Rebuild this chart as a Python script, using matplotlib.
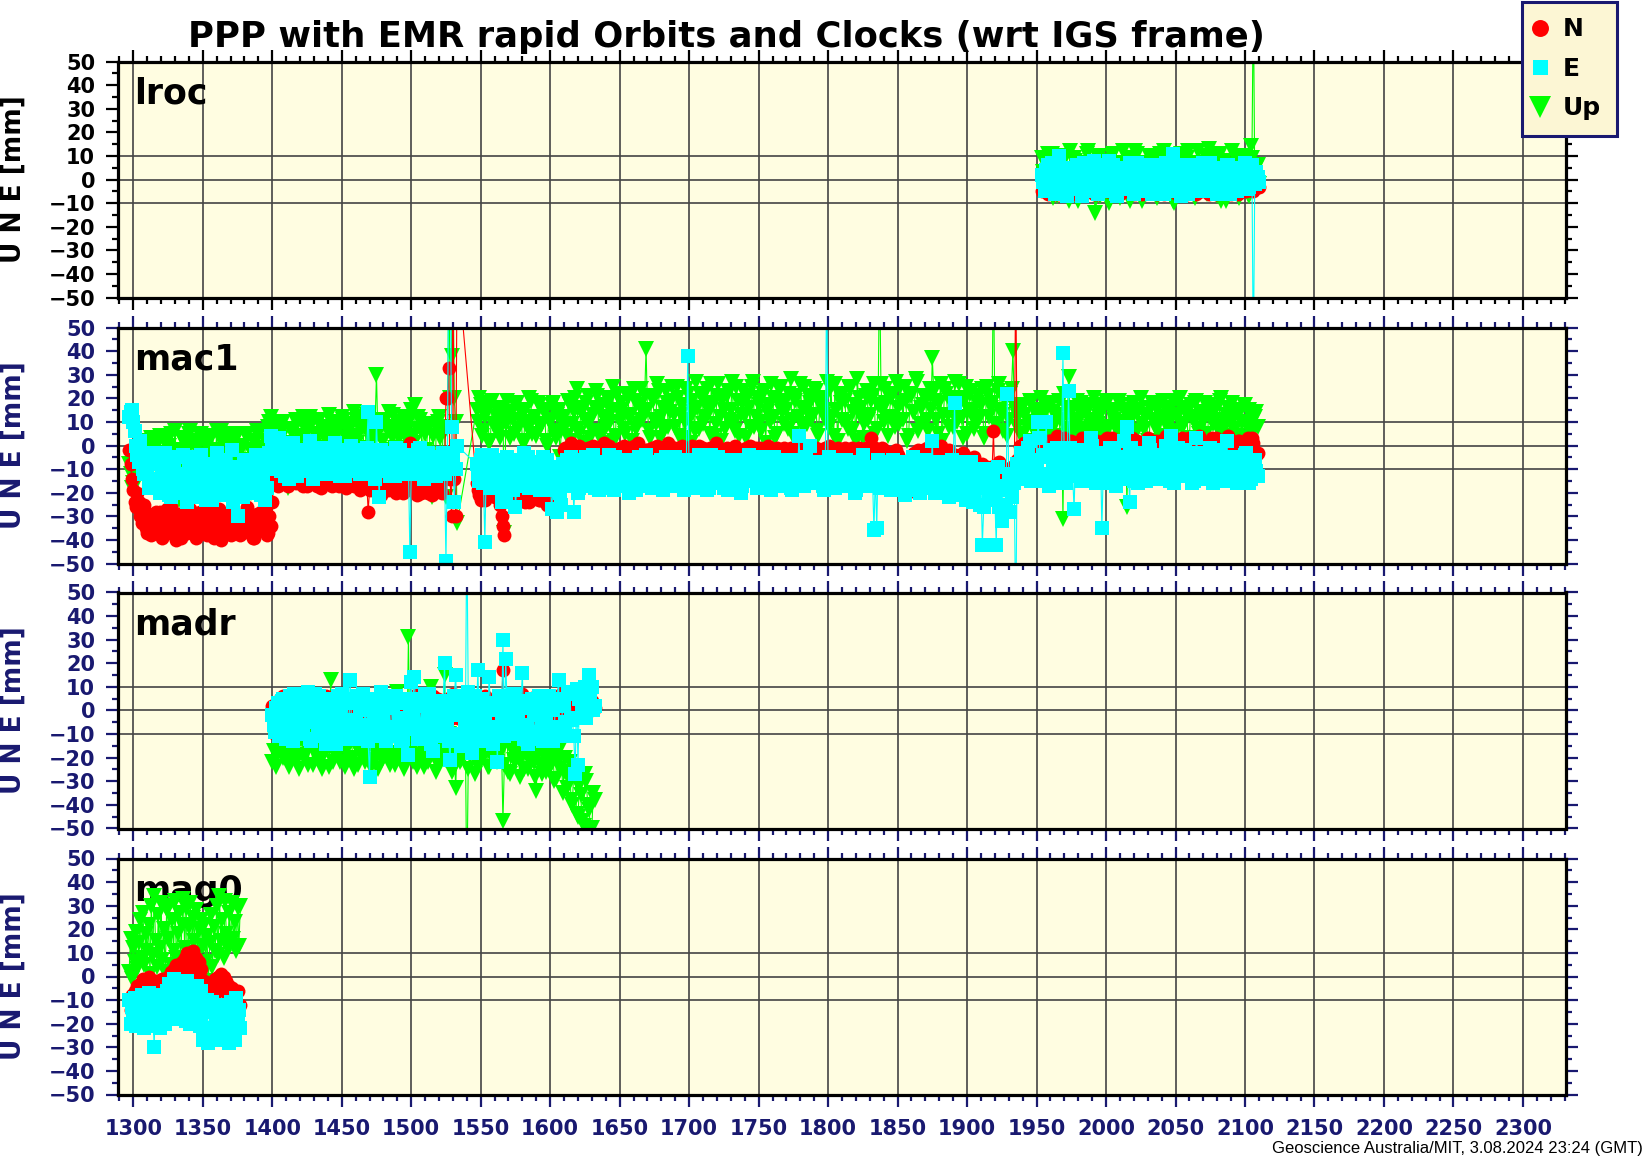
import matplotlib
matplotlib.use("Agg")
import matplotlib.pyplot as plt
import numpy as np
from matplotlib.lines import Line2D
from matplotlib.ticker import MultipleLocator

# ---- data (GPS week, residuals in mm); "_b" = the in-between weeks ----
stations = ['lroc', 'mac1', 'madr', 'mag0']

lroc_weeks = np.arange(1954, 2112, 2)
lroc_n = [-5,-2,-6,-1,-4,-3,-6,0,-2,-5, -4,-1,-3,-6,-2,0,-5,-3,-1,-4,
          -6,-2,-3,0,-5,-1,-4,-2,-6,-3, 0,-4,-1,-5,-2,-3,-6,-1,-4,0,
          -2,-5,-3,-1,-6,-2,-4,0,-3,-5, -1,-2,-6,-4,0,-3,-1,-5,-2,-4,
          -6,-1,-3,0,-5,-2,-4,-1,-6,-3, -2,0,-4,-1,-3,-2,-5,0,-3]
lroc_e = [2,-5,6,-3,1,-6,10,-2,4,-7, 0,5,-4,3,-1,7,-5,2,-3,6,
          -6,1,4,-2,8,-4,0,-7,3,-1, 5,-3,2,-6,7,-2,0,4,-5,1,
          -3,6,-1,3,-6,2,-4,11,-2,5, -7,0,4,-3,6,-1,2,-5,7,-4,
          1,-2,5,-6,3,0,-3,6,-1,4, -5,2,-2,7,-4,1,-80,3,-1]
lroc_u = [9,-4,11,2,-8,7,-1,10,-6,4, 12,-3,8,-9,5,0,11,-5,3,-14,
          9,-7,6,1,-10,10,-2,7,-8,12, 3,-4,9,-6,11,0,-9,6,2,-3,
          10,-7,8,-1,12,-5,4,-9,7,1, 11,-6,9,-2,5,-8,12,3,-4,10,
          13,-3,8,-7,11,0,-9,6,2,-5, 10,-8,4,9,-6,14,80,5,-2]
lroc_weeks_b = np.arange(1955, 2111, 2)
lroc_n_b = [-3,-5,-1,-4,-6,-2,-3,-5,0,-4, -2,-6,-1,-3,-5,-2,-4,0,-6,-3,
            -1,-4,-2,-5,-3,0,-6,-2,-4,-1, -5,-3,-2,-6,0,-4,-1,-5,-3,-2,
            -4,-6,-1,-3,-5,0,-2,-4,-6,-1, -3,-5,-2,0,-4,-6,-1,-3,-5,-2,
            0,-4,-6,-2,-3,-1,-5,-4,0,-2, -6,-3,-1,-5,-2,-4,-1,-3]
lroc_e_b = [-1,4,-3,7,-6,2,-2,5,-5,1, 3,-4,6,-1,-7,4,0,-3,8,-2,
            2,-5,5,-1,-3,6,-6,1,4,-2, -4,7,0,-5,3,-1,6,-3,2,-6,
            5,-2,1,-4,7,0,-5,3,-1,4, -3,6,-6,2,-2,5,0,-4,3,-1,
            7,-5,1,-3,4,-2,6,-6,2,0, -4,5,-1,3,-3,6,-2,1]
lroc_u_b = [3,8,-5,11,0,-7,6,-2,10,-9, 4,9,-4,7,1,-6,12,-3,5,-8,
            10,2,-5,8,-1,11,-7,4,6,-3, 9,-9,2,12,-4,7,0,-6,10,-2,
            5,-8,11,3,-5,8,-1,-10,6,2, 9,-4,12,0,-7,7,4,-3,10,-6,
            1,11,-2,6,-9,8,3,-5,12,-1, 7,-4,10,2,-7,9,0,6]

mac1_weeks = np.r_[np.arange(1297, 1535, 2), np.arange(1547, 2111, 2)]
mac1_n = [-2,-14,-24,-20,-30,-27,-35,-29,-38,-31,
          -33,-28,-39,-30,-36,-26,-34,-40,-29,-35, -31,-37,-27,-33,-39,-30,-35,-28,-38,-32,
          -26,-36,-31,-40,-29,-34,-37,-27,-33,-30, -38,-32,-28,-36,-31,-39,-29,-35,-33,-27,
          -37,-34,
          -12,-16,-11,-15,-13,-17,-12,-14,-16,-11, -15,-13,-17,-12,-14,-16,-13,-18,-12,-15,
          -14,-17,-13,-16,-12,-15,-18,-14,-13,-17, -15,-19,-14,-16,-28,-17,-13,-18,-20,-15,
          -16,-19,-14,-17,-20,-15,-18,-13,-16,1, -14,-18,-15,-20,-17,-19,-16,-21,-18,-15,
          -17,-14,20,
          33,-30,-14,80,
          -16,-21,-18,-23,-15,-20,-17,-22,-19,-30, -38,-18,-21,-16,-23,-19,-17,-22,-20,-24,
          -18,-21,-16,-23,-19,-22,-17,-24,-20,-21, -18,-12,
          -1,-4,1,-3,-5,0,-2,-6,-1,-3, 0,-4,-2,-5,1,-3,-1,-6,-2,-4,
          -3,0,-5,-1,-4,-2,1,-3,-6,-2, -4,-1,-3,0,-5,-2,-4,1,-3,-1,
          -5,-2,0,-4,-1,-3,-6,-2,0,-4, -2,-5,-1,-3,1,-4,-2,-6,-1,-3,
          -4,0,-2,-5,-3,-1,-4,-2,-6,-3, -1,-4,-2,0,-5,-3,-1,-4,-2,-5,
          -3,-1,-4,-2,-6,-3,0,-4,-2,-5, -1,-3,-5,-2,-4,0,-3,-6,-1,-4,
          -2,-5,-3,-1,-4,-2,-6,-3,-1,-4, 3,-2,-5,-3,-1,-4,-7,-3,-5,-2,
          -6,-9,-14,-20,-8,-4,-6,-2,-5,-3, -1,-4,1,-3,-6,0,-5,-8,-2,-7,
          -4,-9,-6,-3,-11,-7,-13,-5,-10,-14, -8,-12,-15,-9,6,-13,-7,-11,-15,-10,
          -12,-16,80,
          -14,-2,1,-3,2,-1,-4,0,3,-2, -1,2,-3,0,4,-2,1,-4,-1,2,
          -3,0,-2,3,-1,-4,1,-2,2,-3, 0,-1,3,-3,1,-2,-4,2,-1,0,
          -2,3,-3,1,-1,-4,2,0,-2,1, -3,2,-1,4,-2,0,-4,1,-1,3,
          -2,0,-3,2,-1,4,-2,-4,1,0, -3,3,-1,-2,2,-4,0,1,-3,2,
          -1,-4,1,-2,3,-5,-3]
mac1_e = [12,15,6,-4,2,-10,-6,-18,-3,-14,
          -8,-20,-12,-3,-17,-22,-10,-15,-5,-19, -13,-24,-7,-16,-11,-21,-4,-14,-18,-9,
          -23,-12,-6,-17,-20,-10,-15,-2,-19,-30, -13,-22,-8,-16,-11,-20,-5,-18,-14,-23,
          -9,4,
          -2,-10,3,-7,-13,-4,-9,1,-12,-6, -3,-11,-8,2,-14,-5,-9,-1,-12,-7,
          -4,-10,1,-8,-13,-3,-6,-11,0,-9, -5,-12,-2,-8,14,-6,-11,10,-22,-4,
          -9,-3,-13,-7,-1,-10,-5,-12,-8,-45, -6,-11,-2,-9,-14,-4,-8,-12,-5,-10,
          -7,-3,-49,
          80,8,-24,0,
          -8,-15,-4,-41,-12,-18,-6,-14,-10,-24, -17,-5,-13,-19,-26,-9,-15,-3,-12,-18,
          -7,-14,-11,-19,-5,-16,-10,-27,-13,-28, -20,-8,
          -8,-15,-5,-28,-12,-18,-6,-14,-10,-17, -4,-13,-19,-9,-15,-7,-12,-18,-5,-11,
          -16,-8,-13,-20,-6,-11,-15,-9,-17,-4, -12,-18,-7,-14,-10,-19,-5,-13,-16,-8,
          -11,-17,-6,-14,38,-9,-18,-12,-4,-15, -10,-19,-7,-13,-16,-5,-12,-18,-9,-14,
          -6,-17,-11,-20,-8,-13,-4,-15,-10,-18, -7,-12,-16,-9,-19,-5,-14,-11,-17,-8,
          -13,-18,-6,-15,4,-10,-17,-7,0,-12, -16,-9,-14,-19,80,-5,-13,-18,-8,-15,
          -11,-6,-17,-12,-20,-9,-14,-4,-16,-10, -13,-36,-35,-18,-7,-15,-11,-19,-6,-14,
          -17,-9,-21,-12,-16,-5,-19,-13,-8,-18, -11,-15,2,-20,-7,-14,-18,-10,-22,-6,
          18,-13,-19,-9,-23,-15,-7,-21,-12,-25, -42,-17,-10,-22,-14,-42,-26,-32,-19,22,
          -28,-15,-80,
          -10,-3,-14,-6,2,-12,-8,10,-15,-4, 10,-17,-5,-13,-1,-9,39,-16,23,-7,
          -27,-11,-2,-15,-6,-12,3,-9,-16,-4, -35,-10,-14,-1,-8,-17,-5,-11,2,8,
          -24,-13,-6,-16,-3,-10,-15,1,-8,-12, -4,-14,-7,0,-11,4,-16,-5,-9,-13,
          -2,-12,-7,-15,3,-9,-14,-6,-11,-1, -16,-8,-4,-13,-10,2,-15,-7,-12,-5,
          -14,-9,-3,-16,-11,-6,-13]
mac1_u = [-8,-18,-12,-15,-5,-10,2,-6,3,-8,
          -3,4,-7,1,-9,5,-2,-5,-23,3, -6,0,6,-8,2,-4,5,-10,1,-3,
          4,-7,-21,6,-5,2,-22,3,-2,5, -6,0,4,-8,-20,-4,6,-3,-7,2,
          8,12,
          2,9,-3,6,0,-18,7,-2,11,4, -4,8,1,12,-1,5,10,-3,7,2,
          13,-2,6,9,0,11,3,-4,8,14, 1,7,12,-1,5,10,4,30,9,2,
          11,6,-2,13,8,3,10,-1,7,12, 4,17,12,6,9,-2,8,-22,-20,10,
          3,8,-22,
          80,38,20,-33,
          15,20,4,12,18,2,9,16,6,13, -37,19,3,11,17,7,14,1,10,20,
          5,12,18,8,15,2,11,17,6,13, -5,9,
          8,19,2,14,24,5,16,11,21,3, 13,23,6,17,1,20,10,25,4,15,
          18,7,22,12,2,19,9,24,14,41, 6,21,11,26,3,16,23,8,19,13,
          25,4,17,10,22,1,14,27,7,20, 12,24,5,18,9,26,2,15,21,11,
          27,6,19,13,23,3,16,25,8,20, 10,22,1,17,26,12,5,24,14,19,
          7,28,11,21,3,16,25,9,18,13, 23,4,20,15,27,8,12,26,2,18,
          22,10,25,6,17,28,13,3,21,11, 19,26,7,80,15,24,4,20,12,27,
          9,18,25,2,22,14,28,6,16,21, 11,24,37,19,5,26,13,22,8,17,
          27,10,20,3,25,15,23,7,18,12, 24,5,21,16,80,9,26,13,19,4,
          22,40,14,
          12,4,17,8,19,2,14,10,20,6, 15,3,18,9,13,1,-31,16,29,7,
          11,19,5,14,2,17,8,20,4,12, 16,6,18,1,13,9,19,3,15,-26,
          10,17,5,14,20,7,12,2,18,9, 15,4,19,11,6,16,1,13,20,8,
          14,3,17,10,19,5,12,18,2,15, 9,16,6,20,11,4,14,18,7,13,
          3,17,10,15,5,12,8]
mac1_weeks_b = np.r_[np.arange(1298, 1534, 2), np.arange(1548, 2110, 2)]
mac1_n_b = [-8,-19,-26,-24,-33,-25,-37,-32,-34,-28,
            -36,-31,-38,-27,-33,-37,-30,-35,-39,-32, -29,-34,-36,-31,-38,-28,-33,-37,-30,-35,
            -39,-32,-27,-34,-36,-31,-38,-29,-35,-33, -37,-30,-26,-34,-39,-31,-36,-28,-33,-38,
            -30,
            -24,-14,-17,-13,-15,-11,-16,-13,-15,-12, -14,-17,-12,-16,-13,-15,-17,-14,-16,-13,
            -12,-15,-16,-14,-17,-13,-15,-12,-16,-15, -14,-16,-18,-13,-15,-19,-16,-14,-17,-21,
            -18,-15,-17,-19,-14,-16,-18,-20,-15,-17, -19,-16,-21,-14,-18,-16,-20,-15,-19,-17,
            -16,-20,-13,
            20,-14,80,-30,
            -19,-23,-17,-21,-20,-16,-22,-18,-25,-34, -20,-23,-17,-21,-19,-22,-18,-24,-20,-17,
            -22,-19,-23,-18,-21,-25,-19,-22,-20,-17, -8,
            -2,-5,-1,-3,0,-4,-2,-5,-3,-1, -4,-2,-6,-1,-3,-5,0,-2,-4,-3,
            -1,-5,-2,-4,-3,0,-5,-1,-3,-4, -2,-6,-1,-4,-3,-1,-5,-2,0,-4,
            -3,-1,-4,-2,-5,-3,0,-4,-2,-5, -1,-3,-4,-2,-5,-1,-3,-4,-2,-5,
            -2,-4,-1,-3,-6,-2,-4,0,-3,-1, -4,-2,-5,-3,-1,-4,-2,-6,-3,-1,
            -2,-5,-3,-1,-4,-2,-5,-3,-1,-4, -3,-5,-2,-4,-1,-3,-5,-2,-4,-3,
            -4,-1,-3,-5,-2,-4,-1,-5,-3,-2, -3,-5,-1,-4,-6,-2,-5,-3,-4,-6,
            -4,-7,-11,-17,-12,-6,-3,-5,-4,-2, -3,-2,-5,-1,-4,-2,-7,-4,-6,-3,
            -8,-5,-10,-7,-4,-12,-6,-9,-13,-8, -11,-14,-9,-13,-10,-16,-12,-8,-14,-11,
            -13,-9,-15,
            -6,0,-2,1,-3,2,-1,-3,1,-2, 0,-3,2,-1,-4,1,-2,3,0,-3,
            1,-2,-1,2,-3,0,-4,3,-2,1, -1,2,-3,0,3,-2,1,-4,0,2,
            -3,1,-2,2,-1,-4,0,3,-2,-1, 2,-3,1,-1,3,-2,0,-4,2,-1,
            1,-3,3,-1,-2,2,-4,0,1,-2, 3,-1,-3,1,0,-2,4,-3,1,-1,
            2,-3,0,3,-2,1,-4]
mac1_e_b = [14,10,0,-7,-4,-12,-9,-14,-8,-17,
            -14,-6,-18,-10,-21,-7,-15,-12,-20,-4, -16,-9,-22,-13,-5,-18,-11,-23,-8,-15,
            -19,-3,-13,-21,-7,-16,-11,-24,-9,-17, -14,-6,-20,-12,-19,-4,-15,-21,-10,-18,
            -3,
            1,-8,-4,-11,-1,-6,-14,-3,-8,-13, -7,-2,-10,-5,-9,-12,-4,-7,-1,-11,
            -8,-3,-12,-6,-9,-2,-13,-5,-7,-10, -3,-9,-6,-12,-1,-8,-4,-14,-7,-2,
            -11,-6,-9,-4,-13,-7,-2,-10,-5,-8, -12,-4,-9,-1,-7,-11,-3,-10,-6,-13,
            -5,-8,-12,
            -6,80,-6,-10,
            -12,-6,-16,-9,-14,-4,-18,-11,-7,-15, -21,-10,-13,-6,-17,-12,-8,-16,-5,-14,
            -10,-18,-8,-13,-16,-6,-12,-19,-9,-15, -25,
            -13,-6,-17,-10,-15,-20,-9,-12,-5,-16, -11,-18,-7,-14,-10,-16,-4,-13,-19,-8,
            -12,-15,-6,-17,-10,-14,-19,-5,-13,-9, -16,-7,-14,-11,-18,-6,-12,-15,-9,-17,
            -5,-13,-10,-19,-7,-15,-11,-6,-17,-9, -14,-12,-18,-4,-16,-10,-8,-15,-13,-19,
            -9,-14,-6,-12,-17,-10,-15,-7,-13,-11, -18,-5,-12,-15,-9,-17,-11,-14,-6,-16,
            -10,-13,-19,-8,-14,-11,-16,-5,-13,-9, -15,-12,-7,-17,-10,-14,-18,-9,-12,-6,
            -16,-13,-8,-15,-11,-19,-7,-14,-10,-17, -9,-15,-12,-6,-18,-11,-14,-8,-16,-10,
            -13,-19,-7,-15,-11,-17,-9,-14,-20,-12, -6,-16,-10,-18,-13,-8,-15,-11,-19,-14,
            -9,-17,-12,-21,-7,-16,-13,-24,-10,-18, -15,-26,-11,-20,-14,-23,-9,-19,-17,-25,
            -12,-22,-16,
            -8,-13,-4,-11,-1,-15,-6,-9,3,-12, -5,-14,-2,-10,-7,-16,-3,-11,-8,-1,
            -13,-6,-10,-15,-4,-9,-12,0,-7,-14, -3,-11,-8,-16,-5,-2,-12,-9,-6,-14,
            -10,-1,-15,-7,-11,-4,-13,-8,-2,-10, -14,-6,-9,-12,-3,-15,-7,-10,-1,-11,
            -8,-13,-5,-16,-9,-3,-12,-7,-14,-4, -10,-6,-15,-2,-11,-8,-13,-5,-9,-16,
            -7,-12,-4,-10,-14,-8,-11]
mac1_u_b = [-12,-16,-7,-11,-3,-8,0,-4,-1,-6,
            1,-5,3,-8,0,-4,6,-2,-9,2, -3,5,-6,1,-1,4,-7,0,3,-5,
            -2,6,-9,1,-4,5,-1,-6,3,-3, 0,-8,5,-2,2,-5,4,-1,-6,6,
            10,
            5,-1,7,3,10,-5,1,6,-3,9, 3,12,-2,6,9,0,4,11,-1,8,
            5,10,2,-3,7,12,-1,6,9,3, 11,4,8,-2,13,6,1,9,5,11,
            2,8,14,4,-1,10,6,12,3,9, 15,1,7,11,-3,5,9,-15,4,8,
            12,-10,6,
            -10,20,80,10,
            10,17,6,14,1,19,8,12,3,16, 9,13,14,5,18,11,2,15,7,19,
            12,4,17,9,14,0,10,18,3,15, 6,
            12,4,17,9,20,7,14,1,18,10, 6,16,21,3,12,8,19,14,2,22,
            10,15,5,20,13,24,7,17,11,21, 15,3,19,9,23,12,6,18,14,25,
            8,20,13,3,24,11,19,6,16,22, 9,17,14,26,4,21,12,19,7,23,
            15,10,25,4,18,13,21,8,27,12, 17,6,23,14,10,20,3,18,25,9,
            15,22,5,19,12,26,8,16,21,11, 24,6,17,13,20,10,25,4,15,22,
            11,19,7,24,14,2,20,16,9,23, 13,21,5,17,26,10,18,12,22,8,
            16,25,11,19,4,21,14,27,9,17, 20,6,15,23,11,18,2,24,13,20,
            8,16,26,12,19,5,22,14,10,21, 17,3,25,12,18,9,23,15,6,20,
            11,24,17,
            8,16,5,13,10,18,6,15,3,12, 9,17,7,14,4,19,11,22,6,13,
            16,3,10,18,7,14,11,5,17,9, 13,4,19,8,15,11,6,17,10,14,
            3,12,18,6,15,9,13,2,16,11, 7,17,12,4,14,10,19,6,13,16,
            9,15,3,12,18,7,14,10,5,17, 11,14,8,19,6,13,16,9,12,4,
            15,10,17,7,13,11,14]

madr_weeks = np.arange(1400, 1633, 2)
madr_n = [2,-10,4,-2,6,0,-4,3,-1,5, -3,1,7,-2,4,5,-5,2,6,-1,
          3,-4,0,5,-2,7,1,-3,4,-1, 6,-2,2,-5,3,0,5,-3,1,7,
          -1,4,-4,2,6,-2,0,3,-5,1, 5,-3,7,0,-1,4,-4,2,6,-2,
          3,-5,1,5,-1,7,0,-3,4,2, -4,6,-1,3,-2,5,0,-5,2,4,
          -1,6,-3,17,1,-4,5,0,3,-2, 7,-1,4,-5,2,6,0,-3,5,1,
          -2,4,-11,3,7,0,-4,5,2,6, -1,8,3,-2,9,4,1]
madr_e = [-2,-9,3,-6,5,-12,0,-4,7,-10, -1,-7,4,8,-13,2,-5,6,-11,-3,
          1,-8,5,-14,-2,7,-6,3,13,-10, -4,6,-12,0,4,-28,-7,2,-11,8,
          -5,-13,1,6,-9,3,-3,-12,5,-19, 12,14,-6,2,-10,7,-2,-14,-17,4,
          -8,1,20,-5,-21,-12,15,3,-15,-1, 80,-9,-18,6,17,-4,-13,2,14,-7,
          -11,-22,5,30,22,-3,-10,7,-6,1, 16,-8,-14,4,-2,-12,6,-5,2,-9,
          0,-13,5,13,-7,3,-11,8,-4,-27, -23,6,9,-3,15,10,2]
madr_u = [-22,-12,-18,-9,-20,-14,-24,-10,-16,-21, -11,-19,-13,-23,-8,-17,-20,-12,-25,-15,
          -9,13,-22,-14,-18,-10,-24,-16,-12,-20, -15,-23,-11,-19,-9,-21,-13,-17,-25,-12,
          -20,-14,-18,-10,-23,8,-16,-21,-11,31, -17,-13,-24,-9,-19,-15,-22,10,-12,-26,
          -14,-20,15,-11,-18,-25,-33,-13,-21,-16, -80,-19,-12,-27,-23,-15,-20,-10,-24,-17,
          -13,-22,-18,-47,-11,-26,-16,-21,-14,-28, -19,-12,-25,-17,-22,-34,-15,-27,-20,-13,
          -24,-18,-29,-21,-15,-26,-33,-22,-40,-28, -45,-36,-49,-30,-42,-50,-38]
madr_weeks_b = np.arange(1401, 1632, 2)
madr_n_b = [0,3,-2,5,1,-3,4,-1,6,2, -4,3,0,5,-2,1,4,-3,2,6,
            -1,3,-4,0,5,2,-2,4,1,-3, 6,0,-1,3,-4,2,5,-2,1,4,
            -3,0,6,-1,2,-4,3,5,0,-2, 4,1,-3,6,2,-1,3,-4,0,5,
            1,-2,4,2,-3,6,0,3,-1,5, -4,2,1,-2,4,0,6,-3,3,1,
            -1,5,2,-4,0,3,6,-2,1,4, -3,2,5,0,-1,3,-4,6,2,1,
            4,-2,0,5,3,-1,6,2,-3,4, 1,7,3,0,8,2]
madr_e_b = [-6,1,-11,4,-3,-8,6,-13,-1,3, -9,5,-4,-12,0,7,-7,-2,4,-14,
            -5,2,-10,6,-1,-8,3,-12,-4,5, -9,0,7,-6,-13,2,-3,5,-10,-1,
            4,-7,-11,1,6,-4,-13,3,-8,0, -2,5,-12,-6,2,-9,7,-3,-11,1,
            -5,4,-8,-13,0,6,-2,-10,3,-6, 8,-4,-12,1,-7,5,-1,-9,3,-14,
            0,6,-5,-11,2,-3,7,-8,-1,4, -12,-6,1,5,-9,-2,3,-13,-4,6,
            0,-7,4,-10,2,-5,7,-3,-11,9, 5,-1,10,3,7,0]
madr_u_b = [-17,-24,-10,-19,-13,-22,-8,-18,-14,-25, -12,-20,-16,-9,-23,-15,-11,-21,-18,-10,
            -24,-14,-19,-12,-22,-9,-17,-20,-13,-25, -11,-18,-15,-22,-10,-24,-14,-19,-8,-21,
            -16,-12,-23,-18,-9,-20,-14,-25,-13,-17, -22,-10,-19,-15,-24,-12,-20,-16,-9,-23,
            -18,-13,-21,-10,-26,-17,-14,-22,-19,-12, -25,-15,-20,-11,-23,-18,-13,-24,-16,-21,
            -10,-19,-15,-23,-12,-27,-17,-22,-14,-20, -25,-16,-21,-13,-28,-18,-23,-15,-26,-19,
            -22,-30,-17,-25,-35,-20,-28,-38,-24,-44, -32,-47,-27,-40,-50,-35]

mag0_weeks = np.arange(1297, 1378, 1)
mag0_n = [-10,-14,-8,-12,-6,-11,-4,-9,-3,-7, -1,-6,-2,-5,0,-7,-3,-8,-2,-6,
          -2,-7,-4,-8,-1,-6,-3,-5,0,-4, 2,-2,3,-3,5,0,4,-1,6,2,
          8,3,10,5,9,4,11,6,8,3, 6,0,3,-4,-2,-7,-5,-9,-4,-8,
          -3,-9,-1,-6,0,-5,1,-4,0,-6, -2,-8,-4,-9,-5,-10,-7,-11,-6,-12,
          -12]
mag0_e = [-10,-20,-13,-17,-9,-21,-14,-11,-19,-8, -16,-22,-10,-18,-7,-13,-21,-12,-30,-9,
          -19,-14,-22,-8,-17,-11,-20,-6,-15,-3, -12,-18,-1,-14,-6,-17,-3,-10,-16,-4,
          -13,-19,-2,-11,-20,-5,-15,-8,-18,-4, -14,-21,-6,-27,-12,-24,-10,-28,-15,-22,
          -11,-26,-13,-20,-27,-12,-24,-17,-26,-12, -21,-15,-28,-11,-25,-18,-27,-9,-20,-14,
          -22]
mag0_u = [2,16,-1,12,6,19,3,14,24,8, 27,5,18,11,22,1,30,9,34,15,
          4,26,12,31,7,20,2,28,16,30, 5,24,11,32,8,18,27,6,22,33,
          12,29,7,21,31,10,25,15,28,9, 20,3,24,13,22,6,17,-2,14,26,
          4,21,11,30,9,34,15,24,8,32, 18,12,27,14,31,16,23,11,29,13,
          30]

series = {
    'lroc': (lroc_weeks, lroc_n, lroc_e, lroc_u, lroc_weeks_b, lroc_n_b, lroc_e_b, lroc_u_b),
    'mac1': (mac1_weeks, mac1_n, mac1_e, mac1_u, mac1_weeks_b, mac1_n_b, mac1_e_b, mac1_u_b),
    'madr': (madr_weeks, madr_n, madr_e, madr_u, madr_weeks_b, madr_n_b, madr_e_b, madr_u_b),
    'mag0': (mag0_weeks, mag0_n, mag0_e, mag0_u, [], [], [], []),
}

# ---- figure layout ----
plt.rcParams['font.family'] = 'DejaVu Sans'
plt.rcParams['font.weight'] = 'bold'

W, H = 1644, 1158
fig = plt.figure(figsize=(W / 100, H / 100), dpi=100)
navy = '#191970'
bg = '#fffde1'
tops = [61.5, 327.5, 592.5, 858.5]
ph = 236

for k, name in enumerate(stations):
    ax = fig.add_axes([118 / W, 1 - (tops[k] + ph) / H, 1448 / W, ph / H])
    ax.set_facecolor(bg)
    wa, na, ea, ua, wb, nb, eb, ub = series[name]
    wk = np.concatenate([wa, np.asarray(wb, dtype=float)])
    order = np.argsort(wk, kind='stable')
    n = np.concatenate([na, nb])[order]
    e = np.concatenate([ea, eb])[order]
    u = np.concatenate([ua, ub])[order]
    wk = wk[order]
    ax.plot(wk, u, '-', color='#00ff00', lw=0.8, marker='v', ms=12, mew=0, zorder=3)
    ax.plot(wk, n, '-', color='#ff0000', lw=0.8, marker='o', ms=10, mew=0, zorder=4)
    ax.plot(wk, e, '-', color='#00ffff', lw=0.8, marker='s', ms=9.5, mew=0, zorder=5)

    ax.set_xlim(1289, 2331)
    ax.set_ylim(-50, 50)
    ax.xaxis.set_major_locator(MultipleLocator(50))
    ax.xaxis.set_minor_locator(MultipleLocator(10))
    ax.yaxis.set_major_locator(MultipleLocator(10))
    ax.yaxis.set_minor_locator(MultipleLocator(5))

    ax.grid(axis='x', which='major', color='#444444', lw=1.2, zorder=0)
    for yv in (-10, 0, 10):
        ax.axhline(yv, color='#444444', lw=1.2, zorder=0)
    ax.set_axisbelow(True)

    tc = 'black' if k == 0 else navy
    ax.tick_params(which='both', direction='out', color=tc, labelcolor=tc,
                   top=True, right=True, width=1.6)
    ax.tick_params(which='major', length=8.5)
    ax.tick_params(which='minor', length=4.3)
    ax.tick_params(axis='y', labelsize=15, pad=8)
    ax.tick_params(axis='x', labelsize=15, pad=9, labelbottom=(k == 3))
    for sp in ax.spines.values():
        sp.set_linewidth(2.3)
        sp.set_color('black')
        sp.set_zorder(6)

    ax.text(16 / 1448, 1 - 42 / ph, name, transform=ax.transAxes,
            fontsize=25, fontweight='bold', va='baseline', ha='left', zorder=1)
    fig.text(14 / W, 1 - (tops[k] + ph / 2) / H, 'U N E [mm]', rotation=90,
             ha='center', va='center', fontsize=19, fontweight='bold', color=tc)

fig.text(726.5 / W, 1 - 46.7 / H, 'PPP with EMR rapid Orbits and Clocks (wrt IGS frame)',
         ha='center', va='baseline', fontsize=25.5, fontweight='bold')
fig.text(1643 / W, 1 - 1149 / H, 'Geoscience Australia/MIT, 3.08.2024 23:24 (GMT)',
         ha='right', va='center', fontsize=12, fontweight='normal', family='Liberation Sans')

handles = [Line2D([], [], ls='none', marker='o', color='#ff0000', ms=12.2, mew=0),
           Line2D([], [], ls='none', marker='s', color='#00ffff', ms=10.8, mew=0),
           Line2D([], [], ls='none', marker='v', color='#00ff00', ms=15.5, mew=0)]
leg = fig.legend(handles, ['N', 'E', 'Up'], loc='upper left', mode='expand',
                 bbox_to_anchor=(1522 / W, 1 - 132 / H, 95 / W, 130 / H), borderaxespad=0,
                 prop={'family': 'DejaVu Sans', 'weight': 'bold', 'size': 18},
                 frameon=True, fancybox=False, edgecolor=navy, facecolor='#fcf6d4',
                 framealpha=1, borderpad=0.62, handlelength=0.2, handletextpad=0.82,
                 labelspacing=0.62)
leg.get_frame().set_linewidth(2.2)

fig.savefig('out.png', dpi=100)
